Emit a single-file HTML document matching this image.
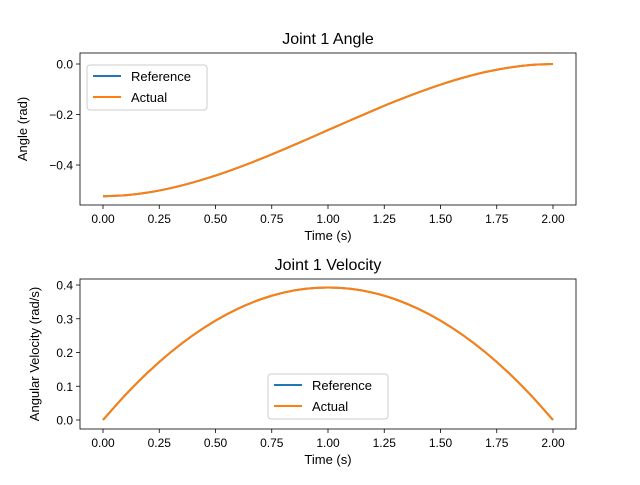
<!DOCTYPE html>
<html><head><meta charset="utf-8"><style>
body{margin:0;background:#fff}
svg{font-family:"Liberation Sans","DejaVu Sans",sans-serif}
text{fill:#000}
</style></head><body>
<svg id="fig" width="640" height="480" viewBox="0 0 640 480"></svg>
<script>
const times=[0,0.1,0.2,0.3,0.4,0.5,0.6,0.7,0.8,0.9,1.0,1.1,1.2,1.3,1.4,1.5,1.6,1.7,1.8,1.9,2.0];
const angleRef=[-0.5236,-0.5198,-0.5089,-0.4918,-0.4691,-0.4418,-0.4105,-0.3761,-0.3393,-0.3009,-0.2618,-0.2227,-0.1843,-0.1475,-0.1131,-0.0818,-0.0545,-0.0318,-0.0147,-0.0038,0];
const angleAct=[-0.5236,-0.5198,-0.5089,-0.4918,-0.4691,-0.4418,-0.4105,-0.3761,-0.3393,-0.3009,-0.2618,-0.2227,-0.1843,-0.1475,-0.1131,-0.0818,-0.0545,-0.0318,-0.0147,-0.0038,0];
const velRef=[0,0.0746,0.1414,0.2003,0.2513,0.2945,0.3299,0.3574,0.3770,0.3888,0.3927,0.3888,0.3770,0.3574,0.3299,0.2945,0.2513,0.2003,0.1414,0.0746,0];
const velAct=[0,0.0746,0.1414,0.2003,0.2513,0.2945,0.3299,0.3574,0.3770,0.3888,0.3927,0.3888,0.3770,0.3574,0.3299,0.2945,0.2513,0.2003,0.1414,0.0746,0];
const xTicks=[0,0.25,0.5,0.75,1.0,1.25,1.5,1.75,2.0];
const xTickLabels=["0.00","0.25","0.50","0.75","1.00","1.25","1.50","1.75","2.00"];
const angleTicks=[-0.4,-0.2,0.0];
const angleTickLabels=["−0.4","−0.2","0.0"];
const velTicks=[0,0.1,0.2,0.3,0.4];
const velTickLabels=["0.0","0.1","0.2","0.3","0.4"];

const NS="http://www.w3.org/2000/svg";
const svg=document.getElementById('fig');
function mk(tag,attrs,parent,txt){const e=document.createElementNS(NS,tag);for(const k in attrs)e.setAttribute(k,attrs[k]);if(txt!==undefined)e.textContent=txt;(parent||svg).appendChild(e);return e;}
const xS=t=>103+t*225;
function smooth(P){
  let d='M'+P[0][0].toFixed(2)+','+P[0][1].toFixed(2);
  for(let i=0;i<P.length-1;i++){
    const p0=P[Math.max(i-1,0)],p1=P[i],p2=P[i+1],p3=P[Math.min(i+2,P.length-1)];
    const c1=[p1[0]+(p2[0]-p0[0])/6,p1[1]+(p2[1]-p0[1])/6];
    const c2=[p2[0]-(p3[0]-p1[0])/6,p2[1]-(p3[1]-p1[1])/6];
    d+=' C'+c1.map(v=>v.toFixed(2)).join(',')+' '+c2.map(v=>v.toFixed(2)).join(',')+' '+p2[0].toFixed(2)+','+p2[1].toFixed(2);
  }
  return d;
}

function panel(cfg){
  const g=mk('g',{});
  
  
  const yS=v=>cfg.y0+(v-cfg.v0)*cfg.k;
  xTicks.forEach((t,i)=>{
    const x=xS(t);
    const l=mk('line',{x1:x,x2:x,y1:cfg.bottom,y2:cfg.bottom+4,stroke:'#000','stroke-width':0.8},g);
    
    
    const tx=mk('text',{x:x,y:cfg.bottom+18,'font-size':'12','text-anchor':'middle'},g,xTickLabels[i]);
    
    
  });
  cfg.ticks.forEach((v,i)=>{
    const y=yS(v);
    const l=mk('line',{x1:76,x2:80,y1:y,y2:y,stroke:'#000','stroke-width':0.8},g);
    
    
    const tx=mk('text',{x:73,y:y+4.5,'font-size':'12','text-anchor':'end'},g,cfg.tickLabels[i]);
    
    
  });
  const pts=arr=>arr.map((v,i)=>[xS(times[i]),yS(v)]);
  const p1=mk('path',{d:smooth(pts(cfg.ref)),fill:'none',stroke:'#1f77b4','stroke-width':2},g);
  
  
  const p2=mk('path',{d:smooth(pts(cfg.act)),fill:'none',stroke:'#ff7f0e','stroke-width':2},g);
  
  
  const fr=mk('rect',{x:80,y:cfg.top,width:496,height:cfg.bottom-cfg.top,fill:'none',stroke:'#000','stroke-width':0.8},g);
  
  
  const ti=mk('text',{x:328,y:cfg.top-9,'font-size':'16','text-anchor':'middle'},g,cfg.title);
  
  
  const xl=mk('text',{x:328,y:cfg.bottom+35,'font-size':'13','text-anchor':'middle'},g,'Time (s)');
  
  
  const cy=(cfg.top+cfg.bottom)/2;
  const yl=mk('text',{x:cfg.ylx,y:cy,'font-size':'13','text-anchor':'middle',transform:`rotate(-90 ${cfg.ylx} ${cy})`},g,cfg.ylabel);
  
  
  const lg=mk('g',{},g);
  
  
  mk('rect',{x:cfg.lx,y:cfg.ly,width:120,height:45,rx:3,fill:'#fff','fill-opacity':0.8,stroke:'#ccc','stroke-width':1},lg);
  [['Reference','#1f77b4'],['Actual','#ff7f0e']].forEach((e,i)=>{
    const y=cfg.ly+11+i*21;
    const en=mk('g',{},lg);
    
    
    mk('line',{x1:cfg.lx+6,x2:cfg.lx+34,y1:y,y2:y,stroke:e[1],'stroke-width':2},en);
    mk('text',{x:cfg.lx+44,y:y+5,'font-size':'13'},en,e[0]);
  });
}
panel({name:'angle-panel',top:53,bottom:205,y0:64,v0:0,k:-252.5,ticks:angleTicks,tickLabels:angleTickLabels,ref:angleRef,act:angleAct,title:'Joint 1 Angle',ylabel:'Angle (rad)',ylx:27,lx:87,ly:65});
panel({name:'velocity-panel',top:279,bottom:429,y0:420,v0:0,k:-337.5,ticks:velTicks,tickLabels:velTickLabels,ref:velRef,act:velAct,title:'Joint 1 Velocity',ylabel:'Angular Velocity (rad/s)',ylx:39,lx:268,ly:374});
</script>
</body></html>
